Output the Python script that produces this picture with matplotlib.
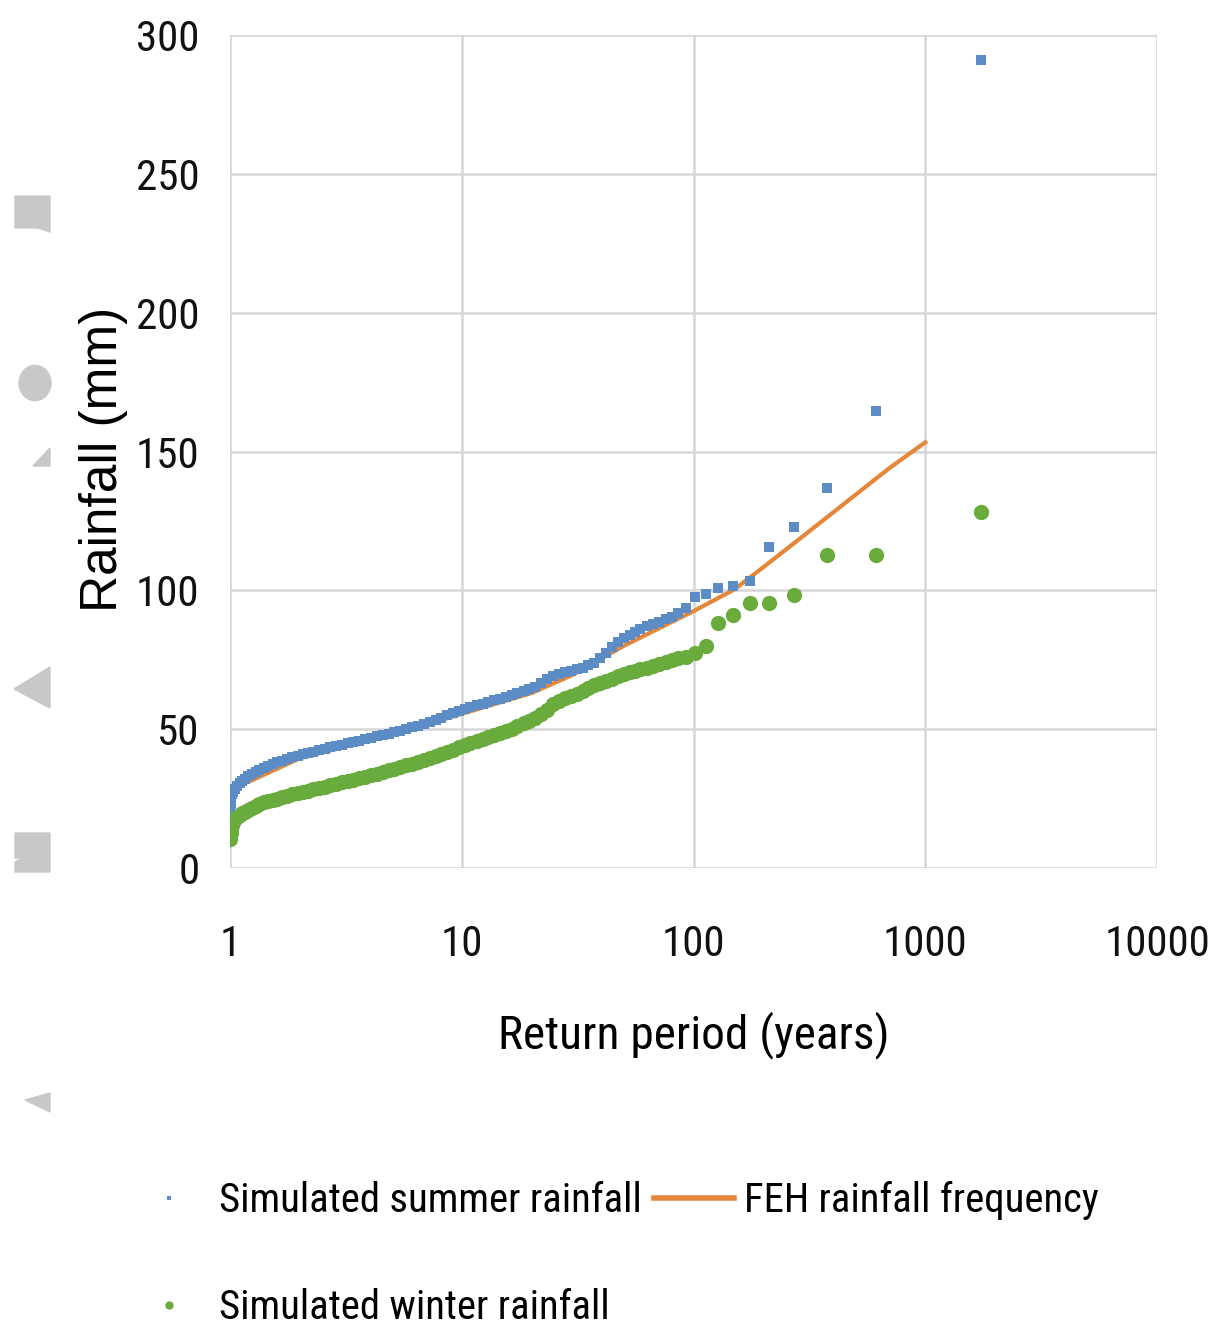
import matplotlib
matplotlib.use("Agg")
import matplotlib.pyplot as plt
from matplotlib.lines import Line2D
from matplotlib.patches import Polygon, Circle

# return period (years), shared plotting positions for both seasons
return_period = [
    1.00, 1.005, 1.01, 1.02, 1.03, 1.05, 1.07, 1.10, 1.13, 1.16, 1.20, 1.24, 1.29, 1.34,
    1.40, 1.46, 1.53, 1.60, 1.68, 1.77, 1.86, 1.96, 2.06, 2.17, 2.29, 2.42, 2.56, 2.71,
    2.87, 3.04, 3.22, 3.41, 3.61, 3.83, 4.06, 4.30, 4.56, 4.83, 5.12, 5.43, 5.76, 6.10,
    6.47, 6.86, 7.27, 7.71, 8.17, 8.66, 9.18, 9.73, 10.3, 10.9, 11.6, 12.3, 13.0, 13.8,
    14.6, 15.5, 16.4, 17.4, 18.5, 19.6, 20.8, 22.0, 23.3, 24.7, 26.2, 27.8, 29.5, 31.3,
    33.2, 35.2, 37.3, 39.5, 41.9, 44.4, 47.1, 50, 53, 56, 59, 63, 67, 71, 76, 81, 86, 93,
    102, 113, 128, 148, 175, 212, 272, 378, 615, 1740]

summer_mm = [
    20.5, 23, 25, 26.5, 27.5, 28.5, 29.5, 30.5, 31.3, 32, 33, 33.8, 34.6, 35.4,
    36.1, 36.8, 37.5, 38.1, 38.7, 39.3, 39.9, 40.4, 40.9, 41.4, 41.9, 42.4, 42.9, 43.4,
    43.9, 44.4, 44.9, 45.4, 45.9, 46.4, 46.9, 47.4, 47.9, 48.4, 48.9, 49.5, 50.1, 50.7,
    51.3, 52, 52.7, 53.4, 54.2, 55, 55.8, 56.6, 57.4, 58, 58.6, 59.2, 59.8, 60.4,
    61, 61.6, 62.2, 62.9, 63.6, 64.4, 65.2, 66.5, 68, 69, 69.8, 70.5, 71, 71.6,
    72.2, 73, 74, 75.8, 77.5, 79.5, 81.5, 83, 84, 85, 86, 87, 88, 88.7, 89.5, 90.5, 92, 93.6,
    97.5, 98.5, 101, 101.5, 103.5, 115.6, 122.8, 136.8, 164.5, 291]

winter_mm = [
    10.5, 12.5, 14, 15.5, 16.5, 17.5, 18.3, 19.2, 19.8, 20.3, 21, 21.7, 22.4, 23,
    23.6, 24.1, 24.6, 25, 25.5, 26, 26.5, 27, 27.4, 27.9, 28.4, 28.9, 29.3, 29.8,
    30.3, 30.8, 31.3, 31.8, 32.3, 32.8, 33.4, 34, 34.6, 35.2, 35.8, 36.4, 37, 37.6,
    38.2, 38.9, 39.6, 40.3, 41, 41.8, 42.6, 43.4, 44.2, 45, 45.8, 46.5, 47.2, 47.9,
    48.6, 49.4, 50.2, 51.1, 52.1, 53.1, 54.2, 55.5, 57, 59, 60.3, 61.2, 62, 62.8,
    63.8, 64.8, 66, 66.8, 67.5, 68.2, 69, 69.8, 70.5, 71, 71.5, 72.2, 72.8, 73.5, 74.2, 75, 75.5, 76,
    77.5, 80, 88.2, 91, 95.4, 95.4, 98.3, 112.7, 112.7, 128.2]

# FEH rainfall frequency curve
feh_period = [1.2, 2, 5, 10, 20, 30, 50, 100, 150, 200, 300, 500, 700, 1000]
feh_mm = [31, 39.5, 48, 55.5, 63, 69.5, 80, 92.5, 100.3, 108.3, 119.8, 134.4, 144, 153.3]

x_ticks = [1, 10, 100, 1000, 10000]
x_tick_labels = ["1", "10", "100", "1000", "10000"]
y_ticks = [0, 50, 100, 150, 200, 250, 300]

blue = "#5b8cc6"
green = "#6aab3e"
orange = "#e4873a"
grid_col = "#d6d6d6"
narrow = ["Roboto Condensed", "DejaVu Sans"]

fig = plt.figure(figsize=(12.16, 13.38), dpi=100)
ax = fig.add_axes([230 / 1216, 1 - 868 / 1338, 927 / 1216, 833 / 1338])

ax.plot(feh_period, feh_mm, color=orange, lw=3, zorder=2)
ax.plot(return_period, summer_mm, ls="none", marker="s", ms=6.5, mew=0,
        color=blue, zorder=3)
ax.plot(return_period, winter_mm, ls="none", marker="o", ms=11, mew=0,
        color=green, zorder=3)

ax.set_xscale("log")
ax.set_xlim(1, 10000)
ax.set_ylim(0, 300)
ax.set_xticks(x_ticks)
ax.set_xticklabels(x_tick_labels)
ax.minorticks_off()
ax.set_yticks(y_ticks)
ax.grid(True, color=grid_col, lw=1.8)
ax.set_axisbelow(True)
for s in ax.spines.values():
    s.set_visible(False)
ax.tick_params(length=0, labelsize=31, colors="#111111")
ax.tick_params(axis="x", pad=40)
ax.tick_params(axis="y", pad=22)
for lab in ax.get_xticklabels() + ax.get_yticklabels():
    lab.set_family(narrow)

ax.set_xlabel("Return period (years)", fontsize=34, family=narrow, va="center")
ax.xaxis.set_label_coords(0.5, (868 - 1035) / 833)
ax.set_ylabel("Rainfall (mm)", fontsize=37, family=["Liberation Sans", "DejaVu Sans"],
              va="center")
ax.yaxis.set_label_coords((104 - 230) / 927, 0.49)

handles = [
    Line2D([], [], ls="none", marker="s", ms=3, mew=0, color=blue),
    Line2D([], [], ls="none", marker="o", ms=6, mew=0, color=green),
    Line2D([], [], color=orange, lw=4),
]
labels = ["Simulated summer rainfall", "Simulated winter rainfall", "FEH rainfall frequency"]
fig.legend(handles, labels, ncol=2, loc="upper left",
           bbox_to_anchor=(129 / 1216, 1 - 1181 / 1338),
           frameon=False, borderpad=0, borderaxespad=0,
           handlelength=1.98, handletextpad=0.23, columnspacing=0.29,
           labelspacing=1.68, prop={"family": narrow, "size": 29.3})

# grey page decorations on the left margin
H = 1338.0
def fp(pts):
    return [(x / 1216, 1 - y / H) for x, y in pts]
shade = "#c8c8c8"
decor = [
    Polygon(fp([(15, 196), (50, 196), (50, 232), (38, 228), (15, 228)]), closed=True),
    Polygon(fp([(33, 466), (50, 448), (50, 466)]), closed=True),
    Polygon(fp([(14, 689), (50, 667), (50, 708)]), closed=True),
    Polygon(fp([(15, 833), (50, 833), (50, 872), (15, 872), (15, 862), (22, 858), (15, 858)]), closed=True),
    Polygon(fp([(25, 1100), (50, 1093), (50, 1112)]), closed=True),
]
for p in decor:
    p.set_color(shade)
    p.set_transform(fig.transFigure)
    fig.patches.append(p)
c = Circle((35 / 1216, 1 - 383 / H), 16 / 1216, color=shade, transform=fig.transFigure)
fig.patches.append(c)

fig.savefig("out.png", dpi=100)
